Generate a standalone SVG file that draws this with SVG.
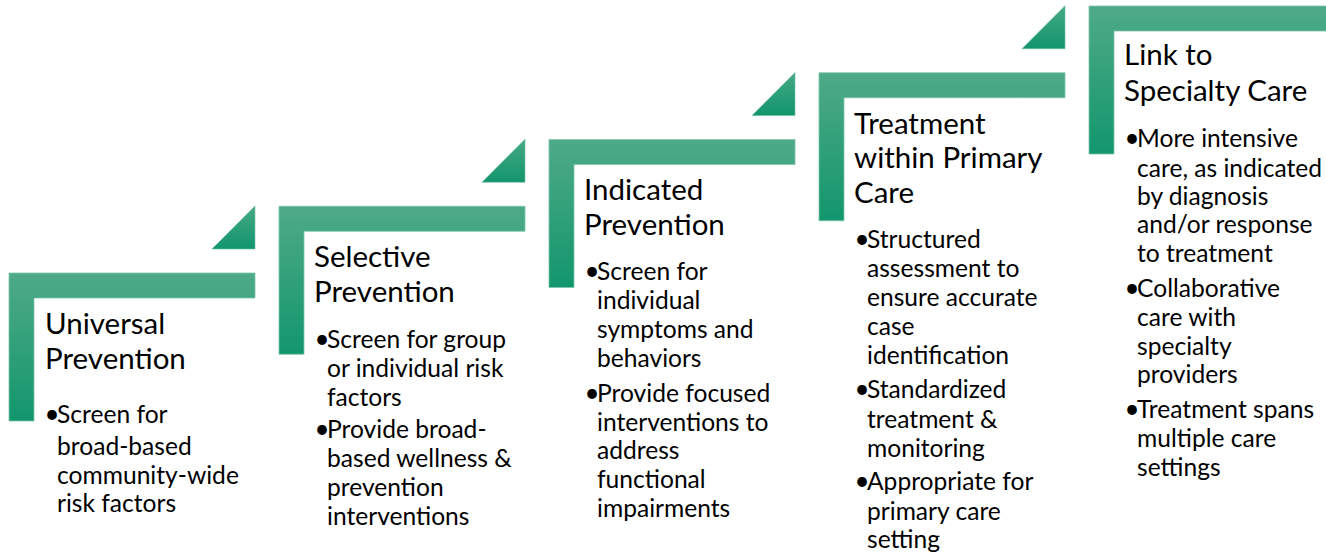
<svg xmlns="http://www.w3.org/2000/svg" width="1326" height="556" viewBox="0 0 1326 556">
<defs>
<linearGradient id="gL" x1="0" y1="0" x2="0" y2="1">
<stop offset="0" stop-color="#4eaa88"/>
<stop offset="0.25" stop-color="#40a580"/>
<stop offset="1" stop-color="#12966d"/>
</linearGradient>
<linearGradient id="gT" x1="0" y1="0" x2="0" y2="1">
<stop offset="0" stop-color="#45a983"/>
<stop offset="1" stop-color="#12956e"/>
</linearGradient>
<path id="L" d="M0,0 H246 V25 H25 V148 H0 Z"/>
<path id="T" d="M246,-67 V-24 H203 Z"/>
</defs>
<style>
.l{fill:url(#gL);stroke:#7cc5a8;stroke-width:0.8}
.t{fill:url(#gT);stroke:#6fbf9f;stroke-width:0.6}
.h{font-family:Lato,"Open Sans",sans-serif;font-size:29.5px;fill:#000}
.b{font-family:Lato,"Open Sans",sans-serif;font-size:24.6px;fill:#000}
.d{font-family:Lato,"Open Sans",sans-serif;font-size:26px;fill:#000}
</style>
<rect width="1326" height="556" fill="#fff"/>
<g id="step1">
<use href="#L" class="l" transform="translate(9,273)"/>
<use href="#T" class="t" transform="translate(9,273)"/>
<text class="h" x="45" y="334">Universal</text>
<text class="h" x="45" y="369">Prevention</text>
<text class="d" x="44.5" y="423">•</text>
<text class="b" x="57" y="423">Screen for</text>
<text class="b" x="57" y="455">broad-based</text>
<text class="b" x="57" y="484">community-wide</text>
<text class="b" x="57" y="512">risk factors</text>
</g>
<g id="step2">
<use href="#L" class="l" transform="translate(279,206.25)"/>
<use href="#T" class="t" transform="translate(279,206.25)"/>
<text class="h" x="314" y="267">Selective</text>
<text class="h" x="314" y="302">Prevention</text>
<text class="d" x="314.5" y="348">•</text>
<text class="b" x="327" y="348">Screen for group</text>
<text class="b" x="327" y="377">or individual risk</text>
<text class="b" x="327" y="406">factors</text>
<text class="d" x="314.5" y="438">•</text>
<text class="b" x="327" y="438">Provide broad-</text>
<text class="b" x="327" y="467">based wellness &amp;</text>
<text class="b" x="327" y="496">prevention</text>
<text class="b" x="327" y="525">interventions</text>
</g>
<g id="step3">
<use href="#L" class="l" transform="translate(549,139.5)"/>
<use href="#T" class="t" transform="translate(549,139.5)"/>
<text class="h" x="584" y="200">Indicated</text>
<text class="h" x="584" y="235">Prevention</text>
<text class="d" x="584.5" y="280">•</text>
<text class="b" x="597" y="280">Screen for</text>
<text class="b" x="597" y="309">individual</text>
<text class="b" x="597" y="338">symptoms and</text>
<text class="b" x="597" y="367">behaviors</text>
<text class="d" x="584.5" y="402">•</text>
<text class="b" x="597" y="402">Provide focused</text>
<text class="b" x="597" y="431">interventions to</text>
<text class="b" x="597" y="459">address</text>
<text class="b" x="597" y="488">functional</text>
<text class="b" x="597" y="517">impairments</text>
</g>
<g id="step4">
<use href="#L" class="l" transform="translate(819,72.75)"/>
<use href="#T" class="t" transform="translate(819,72.75)"/>
<text class="h" x="854" y="134">Treatment</text>
<text class="h" x="854" y="168">within Primary</text>
<text class="h" x="854" y="203">Care</text>
<text class="d" x="854.5" y="248">•</text>
<text class="b" x="867" y="248">Structured</text>
<text class="b" x="867" y="277">assessment to</text>
<text class="b" x="867" y="306">ensure accurate</text>
<text class="b" x="867" y="335">case</text>
<text class="b" x="867" y="364">identification</text>
<text class="d" x="854.5" y="398">•</text>
<text class="b" x="867" y="398">Standardized</text>
<text class="b" x="867" y="428">treatment &amp;</text>
<text class="b" x="867" y="457">monitoring</text>
<text class="d" x="854.5" y="490">•</text>
<text class="b" x="867" y="490">Appropriate for</text>
<text class="b" x="867" y="520">primary care</text>
<text class="b" x="867" y="548">setting</text>
</g>
<g id="step5">
<use href="#L" class="l" transform="translate(1089,6)"/>
<text class="h" x="1124" y="65">Link to</text>
<text class="h" x="1124" y="101">Specialty Care</text>
<text class="d" x="1124.5" y="147">•</text>
<text class="b" x="1137" y="147">More intensive</text>
<text class="b" x="1137" y="177">care, as indicated</text>
<text class="b" x="1137" y="205">by diagnosis</text>
<text class="b" x="1137" y="233">and/or response</text>
<text class="b" x="1137" y="262">to treatment</text>
<text class="d" x="1124.5" y="297">•</text>
<text class="b" x="1137" y="297">Collaborative</text>
<text class="b" x="1137" y="326">care with</text>
<text class="b" x="1137" y="355">specialty</text>
<text class="b" x="1137" y="383">providers</text>
<text class="d" x="1124.5" y="418">•</text>
<text class="b" x="1137" y="418">Treatment spans</text>
<text class="b" x="1137" y="447">multiple care</text>
<text class="b" x="1137" y="476">settings</text>
</g>
<g id="connectors"/>
</svg>
